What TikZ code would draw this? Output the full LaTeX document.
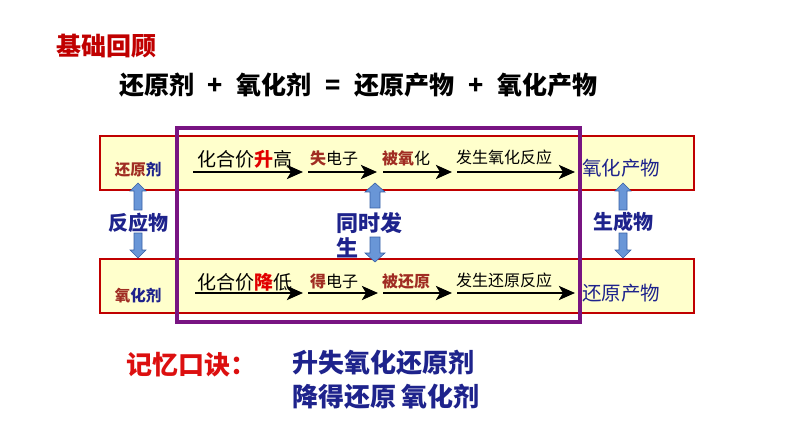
\documentclass[tikz,border=0pt]{standalone}
\usepackage{fontspec}
\setmainfont{Noto Sans CJK SC}
\usetikzlibrary{arrows.meta}
\definecolor{titlered}{RGB}{192,0,0}
\definecolor{brightred}{RGB}{225,0,0}
\definecolor{boxred}{RGB}{192,0,0}
\definecolor{boxfill}{RGB}{255,255,204}
\definecolor{frame}{RGB}{120,20,130}
\definecolor{navy}{RGB}{30,35,140}
\definecolor{brown}{RGB}{160,45,35}
\definecolor{keyred}{RGB}{220,15,15}
\definecolor{bafill}{RGB}{105,150,215}
\definecolor{badraw}{RGB}{55,95,165}
\newcommand\fs[1]{\fontsize{#1}{#1}\selectfont}
\newcommand\myblockarrow[7]{% name x ytip ytail halfshaft halfhead headlen(signed)
  \filldraw[blockarrow] ({#2-#5},#4) -- ({#2-#5},{#3+#7}) -- ({#2-#6},{#3+#7}) -- (#2,#3)
    -- ({#2+#6},{#3+#7}) -- ({#2+#5},{#3+#7}) -- ({#2+#5},#4) -- cycle;
  \coordinate (#1) at (#2,#3);}
\tikzset{
  rowbox/.style={draw=boxred, line width=2pt, fill=boxfill, inner sep=0pt, outer sep=0pt, minimum width=594pt, minimum height=54pt},
  flow/.style={line width=2.8pt, -{Stealth[length=16pt,width=14pt,inset=4pt]}},
  lbl/.style={inner sep=0pt, outer sep=0pt},
  blockarrow/.style={fill=bafill, draw=badraw, line width=0.6pt},
  purpleframe/.style={draw=frame, line width=4pt},
}
\begin{document}
\begin{tikzpicture}[x=1pt,y=-1pt]
\useasboundingbox (0,0) rectangle (794,446);
% title and equation
\node[lbl, anchor=west, text=titlered, font=\bfseries\fs{25}] (title) at (56,46) {基础回顾};
\node[lbl, anchor=west, font=\bfseries\fs{25}] (eq) at (119,85) {还原剂\hspace{0.55em}+\hspace{0.55em}氧化剂\hspace{0.55em}=\hspace{0.55em}还原产物\hspace{0.55em}+\hspace{0.55em}氧化产物};
% row boxes
\node[rowbox] (toprow) at (397,163) {};
\node[rowbox] (botrow) at (397,286) {};
\draw[boxred, line width=2pt] (176,136) -- (176,190);
\draw[boxred, line width=2pt] (176,259) -- (176,313);
% left and right labels
\node[lbl, font=\bfseries\fs{15.5}] (reduc) at (138,170) {\textcolor{brown}{还原}\textcolor{navy}{剂}};
\node[lbl, font=\bfseries\fs{15.5}] (oxid) at (138,296) {\textcolor{brown}{氧}\textcolor{navy}{化剂}};
\node[lbl, anchor=west, text=navy, font=\fs{19.5}] (oxprod) at (582,168) {氧化产物};
\node[lbl, anchor=west, text=navy, font=\fs{19.5}] (redprod) at (582,293) {还原产物};
% top row texts and arrows
\node[lbl, anchor=west, font=\fs{19}] (t1) at (197,159) {化合价\textcolor{brightred}{\bfseries 升}高};
\node[lbl, anchor=west, font=\fs{16}] (t2) at (310,158) {\textcolor{brown}{\bfseries 失}电子};
\node[lbl, anchor=west, font=\fs{16}] (t3) at (382,158) {\textcolor{brown}{\bfseries 被氧}化};
\node[lbl, anchor=west, font=\fs{16}] (t4) at (456,157) {发生氧化反应};
\coordinate (a0) at (193,172); \coordinate (a1) at (303,172);
\coordinate (a2) at (308,172); \coordinate (a3) at (377,172);
\coordinate (a4) at (383,172); \coordinate (a5) at (452,172);
\coordinate (a6) at (457,172); \coordinate (a7) at (575,172);
\draw[flow] (a0) -- (a1);
\draw[flow] (a2) -- (a3);
\draw[flow] (a4) -- (a5);
\draw[flow] (a6) -- (a7);
% bottom row texts and arrows
\node[lbl, anchor=west, font=\fs{19}] (b1) at (197,282) {化合价\textcolor{brightred}{\bfseries 降}低};
\node[lbl, anchor=west, font=\fs{16}] (b2) at (310,281) {\textcolor{brown}{\bfseries 得}电子};
\node[lbl, anchor=west, font=\bfseries\fs{16}, text=brown] (b3) at (382,281) {被还原};
\node[lbl, anchor=west, font=\fs{16}] (b4) at (456,280) {发生还原反应};
\coordinate (c0) at (195,293); \coordinate (c1) at (303,293);
\coordinate (c2) at (308,293); \coordinate (c3) at (378,293);
\coordinate (c4) at (383,293); \coordinate (c5) at (452,293);
\coordinate (c6) at (457,293); \coordinate (c7) at (575,293);
\draw[flow] (c0) -- (c1);
\draw[flow] (c2) -- (c3);
\draw[flow] (c4) -- (c5);
\draw[flow] (c6) -- (c7);
% purple frame
\draw[purpleframe] (177,128) rectangle (580,322);
% block arrows and middle labels
\myblockarrow{lu}{138}{183}{210}{4}{8}{8}
\myblockarrow{ld}{138}{258}{233}{4}{8}{-8}
\myblockarrow{mu}{375}{183}{208}{5}{10}{9}
\myblockarrow{md}{375}{262}{237}{5}{10}{-9}
\myblockarrow{ru}{623}{183}{210}{4}{8}{8}
\myblockarrow{rd}{623}{258}{233}{4}{8}{-8}
\node[lbl, text=navy, font=\bfseries\fs{20}] (reactant) at (138,223) {反应物};
\node[lbl, text=navy, font=\bfseries\fs{20}] (product) at (623,222) {生成物};
\node[lbl, anchor=north west, text=navy, font=\bfseries\fs{22}, align=left] (simul) at (336,212) {同时发\\[3pt]生};
% mnemonic
\node[lbl, anchor=west, text=keyred, font=\bfseries\fs{26}] (mn) at (126,365) {记忆口诀：};
\node[lbl, anchor=west, text=navy, font=\bfseries\fs{26}] (m1) at (292,363) {升失氧化还原剂};
\node[lbl, anchor=west, text=navy, font=\bfseries\fs{26}] (m2) at (292,397) {降得还原 氧化剂};
\end{tikzpicture}
\end{document}
